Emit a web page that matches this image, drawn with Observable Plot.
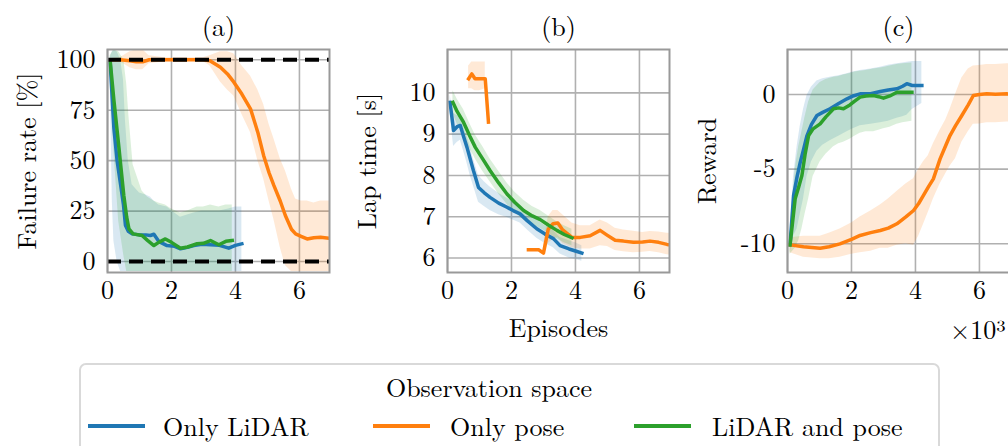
<!DOCTYPE html>
<html><head><meta charset="utf-8">
<script src="https://cdn.jsdelivr.net/npm/d3@7"></script>
<script src="https://cdn.jsdelivr.net/npm/@observablehq/plot@0.6"></script>
<style>
html,body{margin:0;padding:0;background:#fff;overflow:hidden;}
#root{position:relative;width:1008px;height:446px;overflow:hidden;font-family:"Latin Modern Roman","CMU Serif","Liberation Serif","DejaVu Serif","Nimbus Roman","FreeSerif","Noto Serif","Times New Roman",serif;background:#fff;}
.panel{position:absolute;top:0;}
#legend{position:absolute;left:79px;top:363px;width:861px;height:100px;border:2px solid #d9d9d9;border-radius:7px;box-sizing:border-box;}
.lt{position:absolute;font-size:26px;line-height:1;white-space:nowrap;transform:translateY(-50%);color:#000;}
.ll{position:absolute;height:4px;}
</style></head><body><div id="root"><div id="legend"></div></div>
<script>
// ---------- series meta ----------
const seriesNames = ["Only LiDAR", "Only pose", "LiDAR and pose"];
const seriesColors = ["#1f77b4", "#ff7f0e", "#2ca02c"];
const legendTitle = "Observation space";
const panelTitles = ["(a)", "(b)", "(c)"];
const yLabels = ["Failure rate [%]", "Lap time [s]", "Reward"];
const xLabel = "Episodes";
const xScaleNote = "×10³";
const xTicks = [0, 2, 4, 6];
const aTicks = [0, 25, 50, 75, 100];
const bTicks = [6, 7, 8, 9, 10];
const cTicks = [-10, -5, 0];
const aRefLines = [0, 100];

// ---------- (a) Failure rate ----------
const aLidarX = [0.08,0.15,0.2,0.3,0.41,0.5,0.56,0.65,0.77,1.0,1.2,1.34,1.45,1.6,1.86,2.1,2.28,2.5,2.7,2.95,3.22,3.5,3.79,4.0,4.2];
const aLidarY = [100,80,66,50,38,28,18,15,13.7,13.2,13.2,12.9,13.5,10,7.9,7.5,6.3,7.0,7.9,8.5,8.3,8.0,6.6,8.0,8.8];
const aLidarHi = [101,104,105,104,100,90,70,50,38,34,33,32,30,28,27,24,22,23,24,25,25,25,26,27,27];
const aLidarLo = [95,30,10,0,-5,-5,-5,-5,-5,-5,-5,-5,-5,-5,-5,-5,-5,-5,-5,-5,-5,-5,-5,-5,-5];

const aPoseX = [0.05,0.4,0.7,0.9,1.1,1.3,1.8,2.5,3.0,3.2,3.53,3.75,3.95,4.2,4.47,4.7,4.88,5.05,5.2,5.4,5.56,5.75,5.88,6.05,6.24,6.45,6.66,6.95];
const aPoseY = [100,100,99.5,99,99,100,100,100,100,99.5,96.3,93,88.9,83,75.7,64,52.6,44,37.7,30,22.8,16,13.7,12.5,11.2,11.8,12,11.5];
const aPoseHi = [100.5,101,104,105,105,102,101,101,101,102,104,104,103,97,92,85,78,68,61,51,45,36,31,30,30,29,30,30];
const aPoseLo = [99.5,99,96,95,95,98,99,99,99,97,89,85,82,73,64,50,41,30,21,7,-2,-5,-5,-5,-5,-5,-5,-5];

const aBothX = [0.08,0.2,0.35,0.51,0.6,0.67,0.8,1.08,1.25,1.45,1.6,1.81,2.0,2.28,2.5,2.8,3.0,3.22,3.48,3.7,3.9];
const aBothY = [100,80,57.5,32.7,22,16.2,13.7,12.9,10.5,7.9,9.5,11.2,9.5,6.6,7.2,8.8,9.0,10.4,8.3,10,10.4];
const aBothHi = [102,105,104,100,88,72,48,35,32,30,29,28,26,24,25,27,27,28,27,28,28];
const aBothLo = [96,55,20,3,-5,-5,-5,-5,-5,-5,-5,-5,-5,-5,-5,-5,-5,-5,-5,-5,-5];

// ---------- (b) Lap time ----------
const bLidarX = [0.08,0.19,0.3,0.4,0.5,0.61,0.71,0.81,0.97,1.15,1.33,1.6,1.86,2.05,2.27,2.5,2.79,3.05,3.31,3.52,3.8,4.0,4.2];
const bLidarY = [9.77,9.09,9.18,9.21,8.95,8.68,8.4,8.12,7.71,7.58,7.47,7.33,7.23,7.15,7.07,6.9,6.71,6.58,6.47,6.3,6.22,6.17,6.12];
const bLidarHi = [9.95,9.5,9.45,9.4,9.2,8.95,8.7,8.4,8.0,7.85,7.72,7.57,7.45,7.36,7.28,7.1,6.92,6.78,6.67,6.5,6.42,6.37,6.3];
const bLidarLo = [9.5,8.7,8.8,8.85,8.6,8.3,8.0,7.75,7.35,7.25,7.15,7.05,6.98,6.92,6.85,6.68,6.48,6.35,6.25,6.1,6.0,5.97,5.92];

const bPose1X = [0.66,0.76,0.86,1.0,1.18,1.28];
const bPose1Y = [10.34,10.46,10.34,10.34,10.34,9.29];
const bPose1Hi = [10.65,10.75,10.75,10.75,10.75,null];
const bPose1Lo = [10.1,10.1,10.05,10.05,10.1,null];
const bPose2X = [2.53,2.85,3.0,3.15,3.3,3.45,3.6,3.89,4.15,4.46,4.77,5.0,5.24,5.5,5.81,6.1,6.33,6.6,6.86,6.95];
const bPose2Y = [6.2,6.2,6.12,6.7,6.83,6.85,6.68,6.5,6.5,6.54,6.67,6.55,6.43,6.41,6.38,6.39,6.41,6.38,6.33,6.32];
const bPose2Hi = [null,null,6.3,7.0,7.15,7.15,7.05,6.85,6.78,6.78,6.92,6.85,6.72,6.68,6.65,6.62,6.64,6.63,6.6,6.6];
const bPose2Lo = [null,null,6.05,6.35,6.45,6.5,6.35,6.25,6.22,6.22,6.3,6.28,6.18,6.15,6.13,6.14,6.16,6.13,6.08,6.07];

const bBothX = [0.17,0.3,0.5,0.7,0.87,1.1,1.33,1.6,1.86,2.1,2.38,2.65,2.9,3.15,3.42,3.65,3.89];
const bBothY = [9.77,9.55,9.29,8.95,8.68,8.4,8.12,7.82,7.55,7.35,7.15,7.02,6.93,6.8,6.67,6.57,6.49];
const bBothHi = [10.05,9.85,9.6,9.25,8.98,8.7,8.4,8.1,7.82,7.6,7.4,7.25,7.15,7.02,6.88,6.78,6.7];
const bBothLo = [9.5,9.25,9.0,8.65,8.4,8.1,7.85,7.55,7.3,7.1,6.92,6.8,6.72,6.6,6.47,6.37,6.3];

// ---------- (c) Reward ----------
const cLidarX = [0.08,0.19,0.3,0.4,0.5,0.61,0.75,0.92,1.1,1.33,1.6,1.86,2.05,2.27,2.6,2.9,3.15,3.42,3.6,3.73,3.9,4.2];
const cLidarY = [-10.07,-6.76,-5.5,-4.53,-3.7,-2.75,-2.0,-1.41,-1.2,-0.96,-0.6,-0.29,-0.1,0.04,0.05,0.2,0.3,0.38,0.55,0.72,0.6,0.6];
const cLidarHi = [-9.5,-5.5,-3.5,-2.1,-1.0,-0.07,0.5,0.9,1.05,1.15,1.25,1.38,1.5,1.6,1.7,1.83,1.95,2.05,2.1,2.15,2.2,2.2];
const cLidarLo = [-10.6,-9.5,-9.0,-8.0,-7.0,-5.5,-4.5,-3.8,-3.4,-3.1,-2.8,-2.5,-2.3,-2.1,-2.0,-1.9,-1.8,-1.6,-1.5,-1.4,-1.0,-0.6];

const cPoseX = [0.08,0.5,1.02,1.3,1.64,2.0,2.27,2.6,2.9,3.15,3.42,3.7,3.94,4.1,4.25,4.4,4.56,4.77,4.95,5.08,5.25,5.45,5.65,5.81,6.0,6.23,6.5,6.86,6.95];
const cPoseY = [-10.07,-10.2,-10.29,-10.2,-10.0,-9.7,-9.44,-9.25,-9.11,-8.95,-8.66,-8.2,-7.77,-7.3,-6.76,-6.2,-5.65,-4.31,-3.4,-2.75,-2.1,-1.41,-0.7,-0.07,0.0,0.04,0.02,0.04,0.02];
const cPoseHi = [-9.6,-9.5,-9.5,-9.3,-9.0,-8.6,-8.2,-7.8,-7.4,-7.0,-6.5,-6.0,-5.65,-5.0,-4.5,-4.1,-3.3,-2.4,-1.7,-1.0,0.0,1.1,1.7,1.9,1.94,2.0,2.0,2.05,2.05];
const cPoseLo = [-10.6,-10.9,-11.0,-11.0,-10.9,-10.7,-10.6,-10.5,-10.3,-10.3,-10.1,-10.0,-10.1,-9.5,-8.7,-7.9,-7.0,-6.0,-5.3,-4.8,-4.3,-3.2,-2.5,-2.0,-1.97,-1.9,-1.9,-1.85,-1.85];

const cBothX = [0.08,0.24,0.35,0.45,0.55,0.66,0.8,1.02,1.2,1.44,1.6,1.75,1.95,2.1,2.27,2.45,2.69,2.85,3.0,3.2,3.42,3.6,3.89];
const cBothY = [-10.07,-6.99,-6.2,-5.42,-4.0,-2.75,-2.3,-1.97,-1.5,-0.96,-0.9,-0.96,-0.7,-0.45,-0.18,-0.1,-0.07,-0.15,-0.25,-0.1,0.15,0.15,0.15];
const cBothHi = [-9.6,-5.0,-3.5,-2.5,-1.5,-0.5,0.3,0.8,1.0,1.15,1.2,1.3,1.4,1.5,1.55,1.6,1.7,1.75,1.8,1.9,2.0,2.05,2.1];
const cBothLo = [-10.7,-10.3,-9.8,-9.0,-8.0,-7.0,-5.5,-4.5,-4.0,-3.5,-3.3,-3.2,-3.0,-2.8,-2.6,-2.5,-2.5,-2.4,-2.3,-2.2,-2.0,-1.9,-1.8];

// ---------- build ----------
const FONT = '"Latin Modern Roman", "CMU Serif", "Liberation Serif", "DejaVu Serif", "Nimbus Roman", "FreeSerif", "Noto Serif", "Times New Roman", serif';
function rows(xs, ys, lo, hi) {
  return xs.map((x, i) => ({x, y: ys[i], lo: lo[i], hi: hi[i]}));
}
const GRID = "#b0b0b0";
function seriesMarks(list) {
  const areas = [], lines = [];
  for (const [data, ci] of list) {
    areas.push(Plot.areaY(data, {x: "x", y1: "lo", y2: "hi", fill: seriesColors[ci], fillOpacity: 0.17, clip: true}));
  }
  for (const [data, ci] of list) {
    lines.push(Plot.line(data, {x: "x", y: "y", stroke: seriesColors[ci], strokeWidth: 3.5, strokeLinecap: "square", strokeLinejoin: "round", clip: true}));
  }
  return [...areas, ...lines];
}
function panel(idx, yDomain, yTicks, list, extraTop, extraText) {
  const svg = Plot.plot({
    width: 340, height: 345,
    marginLeft: 107, marginRight: 11, marginTop: 49, marginBottom: 73,
    style: {fontFamily: FONT, fontSize: "26px", background: "transparent", color: "#000", overflow: "visible"},
    x: {domain: [0, 6.94]},
    y: {domain: yDomain},
    marks: [
      Plot.gridX({ticks: xTicks, stroke: GRID, strokeOpacity: 1, strokeWidth: 1.6}),
      Plot.gridY({ticks: yTicks, stroke: GRID, strokeOpacity: 1, strokeWidth: 1.6}),
      ...seriesMarks(list),
      ...extraTop,
      Plot.frame({stroke: "#999999", strokeWidth: 2}),
      Plot.axisX({ticks: xTicks, tickSize: 0, tickPadding: 8, label: null, tickFormat: d => String(d), fontVariant: "normal"}),
      Plot.axisY({ticks: yTicks, tickSize: 0, tickPadding: 12, label: null, tickFormat: d => String(d), fontVariant: "normal"}),
      Plot.text([panelTitles[idx]], {frameAnchor: "top", dy: -22, lineAnchor: "middle"}),
      Plot.text([yLabels[idx]], {frameAnchor: "left", dx: -80, rotate: -90, textAnchor: "middle", lineAnchor: "middle"}),
      ...extraText
    ]
  });
  svg.setAttribute("font-family", FONT);
  svg.querySelectorAll("text").forEach(t => t.style.fontFamily = FONT);
  return svg;
}

const pa = panel(0, [-5.45, 105.1], aTicks, [
  [rows(aLidarX, aLidarY, aLidarLo, aLidarHi), 0],
  [rows(aPoseX, aPoseY, aPoseLo, aPoseHi), 1],
  [rows(aBothX, aBothY, aBothLo, aBothHi), 2]
], [Plot.ruleY(aRefLines, {stroke: "#000", strokeWidth: 4, strokeDasharray: "14,8"})], []);

const pb = panel(1, [5.65, 11.05], bTicks, [
  [rows(bLidarX, bLidarY, bLidarLo, bLidarHi), 0],
  [rows(bPose1X, bPose1Y, bPose1Lo, bPose1Hi), 1],
  [rows(bPose2X, bPose2Y, bPose2Lo, bPose2Hi), 1],
  [rows(bBothX, bBothY, bBothLo, bBothHi), 2]
], [], [Plot.text([xLabel], {frameAnchor: "bottom", dy: 56, lineAnchor: "middle"})]);

const pc = panel(2, [-11.92, 3.01], cTicks, [
  [rows(cLidarX, cLidarY, cLidarLo, cLidarHi), 0],
  [rows(cPoseX, cPoseY, cPoseLo, cPoseHi), 1],
  [rows(cBothX, cBothY, cBothLo, cBothHi), 2]
], [], [Plot.text([xScaleNote], {frameAnchor: "bottom-right", dx: -4, dy: 58, textAnchor: "end", lineAnchor: "middle"})]);

const root = document.getElementById("root");
[pa, pb, pc].forEach((svg, i) => {
  svg.classList.add("panel");
  svg.style.position = "absolute";
  svg.style.left = (i * 340) + "px";
  svg.style.top = "0px";
  svg.style.maxWidth = "none";
  root.appendChild(svg);
});

// ---------- legend ----------
const legend = document.getElementById("legend");
legend.style.fontFamily = FONT;
const lgLeft = 79, lgTop = 363;
function addText(txt, x, y, anchor) {
  const d = document.createElement("div");
  d.className = "lt";
  d.textContent = txt;
  d.style.fontFamily = FONT;
  d.style.left = (x - lgLeft - 2) + "px";
  d.style.top = (y - lgTop - 2) + "px";
  if (anchor === "middle") d.style.transform = "translate(-50%,-50%)";
  legend.appendChild(d);
}
addText(legendTitle, 489, 387, "middle");
const lineStarts = [88, 373, 634];
const textStarts = [163, 450, 712];
seriesNames.forEach((name, i) => {
  const l = document.createElement("div");
  l.className = "ll";
  l.style.background = seriesColors[i];
  l.style.left = (lineStarts[i] - lgLeft - 2) + "px";
  l.style.top = (426 - 2 - lgTop - 2) + "px";
  l.style.width = "57px";
  legend.appendChild(l);
  addText(name, textStarts[i], 426, "start");
});
</script></body></html>
